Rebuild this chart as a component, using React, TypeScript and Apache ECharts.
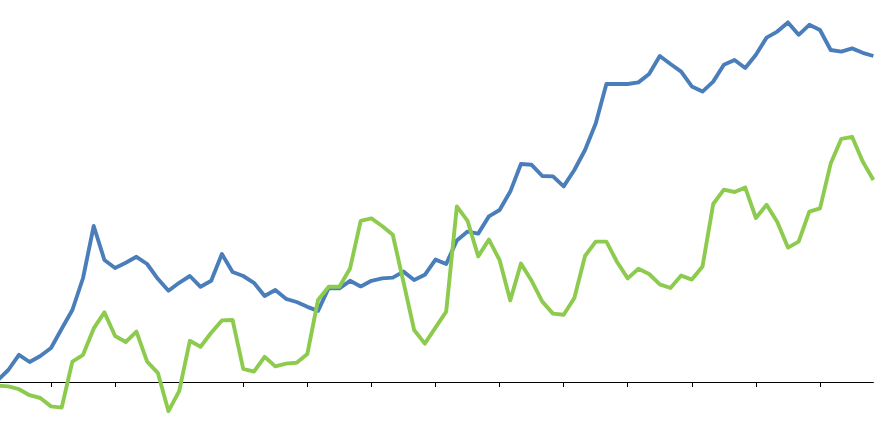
import React, { useEffect, useRef } from "react";
import * as echarts from "echarts";

// 83 periods, tick every 6th period (starting with the 6th)
const categories: string[] = Array.from({ length: 83 }, (_, i) => String(i + 1));

const blueSeries: number[] = [
  0.4, 3.0, 6.8, 5.0, 6.5, 8.5, 13.3, 18.0, 26.0, 39.0,
  30.5, 28.5, 29.8, 31.3, 29.5, 25.8, 22.8, 24.8, 26.5, 23.8,
  25.3, 32.0, 27.5, 26.5, 24.8, 21.5, 23.0, 20.8, 20.0, 18.8,
  17.8, 23.5, 23.4, 25.3, 23.9, 25.3, 25.9, 26.1, 27.6, 25.5,
  26.8, 30.6, 29.5, 35.4, 37.6, 37.1, 41.4, 43.0, 47.6, 54.5,
  54.3, 51.5, 51.4, 48.9, 53.0, 58.0, 64.6, 74.5, 74.5, 74.5,
  74.9, 77.0, 81.5, 79.5, 77.6, 73.9, 72.6, 75.1, 79.3, 80.5,
  78.5, 81.8, 86.1, 87.6, 89.9, 86.8, 89.3, 88.0, 83.0, 82.6,
  83.4, 82.3, 81.5,
];

const greenSeries: number[] = [
  -0.9, -1.1, -1.8, -3.3, -4.0, -6.1, -6.4, 5.1, 6.8, 13.4,
  17.4, 11.5, 10.0, 12.6, 5.1, 2.3, -7.3, -2.3, 10.3, 8.8,
  12.3, 15.4, 15.5, 3.3, 2.6, 6.3, 3.9, 4.6, 4.8, 7.0,
  20.5, 23.8, 23.8, 28.4, 40.3, 40.9, 39.0, 36.8, 25.0, 13.0,
  9.6, 13.6, 17.6, 43.9, 40.3, 31.4, 35.6, 30.5, 20.4, 29.6,
  25.3, 20.1, 17.1, 16.8, 21.0, 31.5, 35.1, 35.1, 30.0, 25.9,
  28.3, 27.0, 24.4, 23.5, 26.6, 25.6, 28.9, 44.5, 48.1, 47.5,
  48.6, 41.0, 44.3, 40.0, 33.6, 35.1, 42.6, 43.4, 54.6, 60.8,
  61.3, 55.1, 50.5,
];

const BLUE = "#4A7EBB";
const GREEN = "#8DCB4E";

export default function App() {
  const ref = useRef<HTMLDivElement>(null);

  useEffect(() => {
    if (!ref.current) return;
    const chart = echarts.init(ref.current, undefined, { renderer: "svg" });
    chart.setOption({
      animation: false,
      backgroundColor: "#ffffff",
      grid: { left: 17.6, right: 26.6, top: 0, bottom: 0, containLabel: false },
      xAxis: {
        type: "category",
        data: categories,
        boundaryGap: false,
        axisLine: { show: true, onZero: true, lineStyle: { color: "#000000", width: 1 } },
        axisTick: {
          show: true,
          inside: false,
          length: 5,
          interval: (index: number) => index >= 5 && (index - 5) % 6 === 0,
          lineStyle: { color: "#000000", width: 1 },
        },
        axisLabel: { show: false },
        splitLine: { show: false },
      },
      yAxis: {
        type: "value",
        min: -12.75,
        max: 95.5,
        show: false,
        splitLine: { show: false },
      },
      series: [
        {
          type: "line",
          data: blueSeries,
          symbol: "none",
          lineStyle: { color: BLUE, width: 3.9, join: "round" },
          itemStyle: { color: BLUE },
          z: 2,
        },
        {
          type: "line",
          data: greenSeries,
          symbol: "none",
          lineStyle: { color: GREEN, width: 3.9, join: "round" },
          itemStyle: { color: GREEN },
          z: 3,
        },
      ],
    });
    return () => chart.dispose();
  }, []);

  return (
    <div
      ref={ref}
      style={{ position: "fixed", left: -20, top: 0, width: 920, height: 433 }}
    />
  );
}
